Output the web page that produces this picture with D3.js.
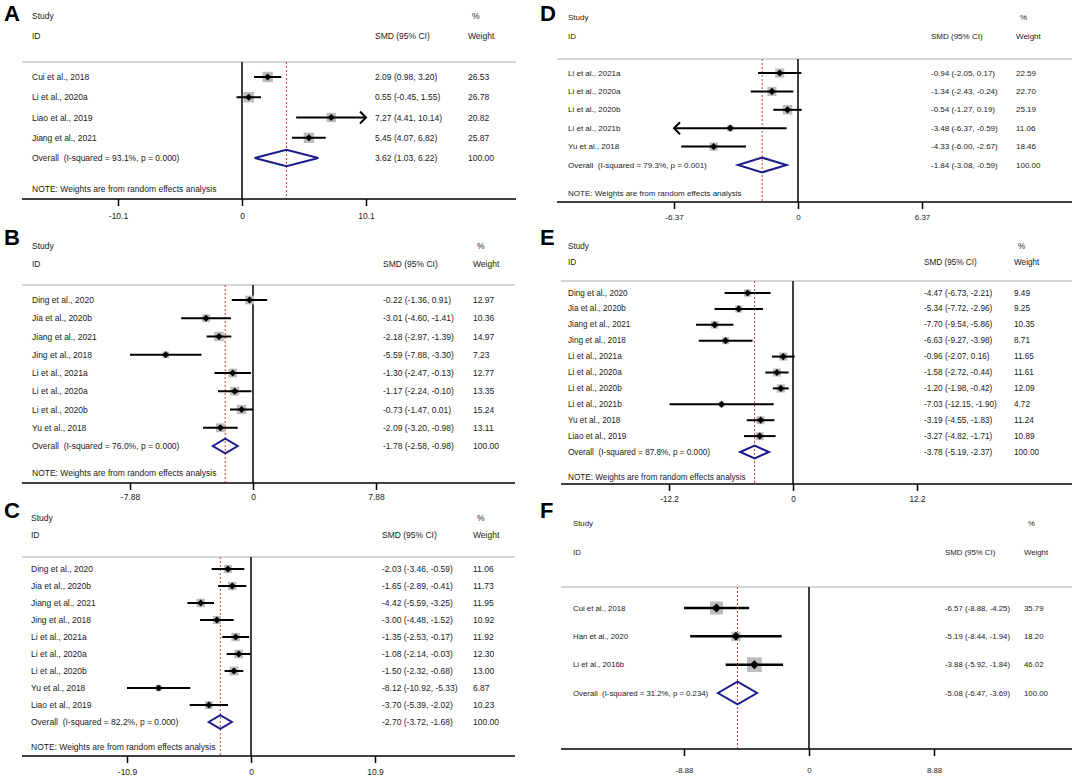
<!DOCTYPE html>
<html>
<head>
<meta charset="utf-8">
<script src="https://cdn.jsdelivr.net/npm/d3@7"></script>
<style>
  html, body { margin: 0; padding: 0; background: #fff; }
  svg { display: block; font-family: "Liberation Sans", Arial, sans-serif; }
</style>
</head>
<body>
<svg id="chart" width="1072" height="784"></svg>
<script>
// ---- data ----
const studiesA = ['Cui et al., 2018', 'Li et al., 2020a', 'Liao et al., 2019', 'Jiang et al., 2021'];
const smdA = [2.09, 0.55, 7.27, 5.45];
const loA = [0.98, -0.45, 4.41, 4.07];
const hiA = [3.20, 1.55, 10.14, 6.82];
const weightA = [26.53, 26.78, 20.82, 25.87];
const overallA = [3.62, 1.03, 6.22];
const hetA = ['93.1%', '0.000'];
const ticksA = [-10.1, 0, 10.1];
const arrowsA = [0, 0, 1, 0];

const studiesB = ['Ding et al., 2020', 'Jia et al., 2020b', 'Jiang et al., 2021', 'Jing et al., 2018',
    'Li et al., 2021a', 'Li et al., 2020a', 'Li et al., 2020b', 'Yu et al., 2018'];
const smdB = [-0.22, -3.01, -2.18, -5.59, -1.30, -1.17, -0.73, -2.09];
const loB = [-1.36, -4.60, -2.97, -7.88, -2.47, -2.24, -1.47, -3.20];
const hiB = [0.91, -1.41, -1.39, -3.30, -0.13, -0.10, 0.01, -0.98];
const weightB = [12.97, 10.36, 14.97, 7.23, 12.77, 13.35, 15.24, 13.11];
const overallB = [-1.78, -2.58, -0.98];
const hetB = ['76.0%', '0.000'];
const ticksB = [-7.88, 0, 7.88];
const arrowsB = [0, 0, 0, 0, 0, 0, 0, 0];

const studiesC = ['Ding et al., 2020', 'Jia et al., 2020b', 'Jiang et al., 2021', 'Jing et al., 2018',
    'Li et al., 2021a', 'Li et al., 2020a', 'Li et al., 2020b', 'Yu et al., 2018', 'Liao et al., 2019'];
const smdC = [-2.03, -1.65, -4.42, -3.00, -1.35, -1.08, -1.50, -8.12, -3.70];
const loC = [-3.46, -2.89, -5.59, -4.48, -2.53, -2.14, -2.32, -10.92, -5.39];
const hiC = [-0.59, -0.41, -3.25, -1.52, -0.17, -0.03, -0.68, -5.33, -2.02];
const weightC = [11.06, 11.73, 11.95, 10.92, 11.92, 12.30, 13.00, 6.87, 10.23];
const overallC = [-2.70, -3.72, -1.68];
const hetC = ['82.2%', '0.000'];
const ticksC = [-10.9, 0, 10.9];
const arrowsC = [0, 0, 0, 0, 0, 0, 0, 0, 0];

const studiesD = ['Li et al., 2021a', 'Li et al., 2020a', 'Li et al., 2020b', 'Li et al., 2021b', 'Yu et al., 2018'];
const smdD = [-0.94, -1.34, -0.54, -3.48, -4.33];
const loD = [-2.05, -2.43, -1.27, -6.37, -6.00];
const hiD = [0.17, -0.24, 0.19, -0.59, -2.67];
const weightD = [22.59, 22.70, 25.19, 11.06, 18.46];
const overallD = [-1.84, -3.08, -0.59];
const hetD = ['79.3%', '0.001'];
const ticksD = [-6.37, 0, 6.37];
const arrowsD = [0, 0, 0, -1, 0];

const studiesE = ['Ding et al., 2020', 'Jia et al., 2020b', 'Jiang et al., 2021', 'Jing et al., 2018',
    'Li et al., 2021a', 'Li et al., 2020a', 'Li et al., 2020b', 'Li et al., 2021b', 'Yu et al., 2018', 'Liao et al., 2019'];
const smdE = [-4.47, -5.34, -7.70, -6.63, -0.96, -1.58, -1.20, -7.03, -3.19, -3.27];
const loE = [-6.73, -7.72, -9.54, -9.27, -2.07, -2.72, -1.98, -12.15, -4.55, -4.82];
const hiE = [-2.21, -2.96, -5.86, -3.98, 0.16, -0.44, -0.42, -1.90, -1.83, -1.71];
const weightE = [9.49, 9.25, 10.35, 8.71, 11.65, 11.61, 12.09, 4.72, 11.24, 10.89];
const overallE = [-3.78, -5.19, -2.37];
const hetE = ['87.8%', '0.000'];
const ticksE = [-12.2, 0, 12.2];
const arrowsE = [0, 0, 0, 0, 0, 0, 0, 0, 0, 0];

const studiesF = ['Cui et al., 2018', 'Han et al., 2020', 'Li et al., 2016b'];
const smdF = [-6.57, -5.19, -3.88];
const loF = [-8.88, -8.44, -5.92];
const hiF = [-4.25, -1.94, -1.84];
const weightF = [35.79, 18.20, 46.02];
const overallF = [-5.08, -6.47, -3.69];
const hetF = ['31.2%', '0.234'];
const ticksF = [-8.88, 0, 8.88];
const arrowsF = [0, 0, 0];

// ---- layout of each panel (pixels) ----
const panels = [
    { letter: 'A', studies: studiesA, smd: smdA, lo: loA, hi: hiA, weight: weightA, overall: overallA, het: hetA, ticks: ticksA, arrows: arrowsA,
      lay: { letterX: 4, letterY: 21, left: 22, right: 516, zero: 242, tickPx: 124, labelX: 32, smdX: 375, wX: 468,
             studyY: 16, idY: 36, topY: 62, rowTop: 77, rowBot: 158, noteY: 189, axisY: 199, tickLabelY: 217, font: 8.5 } },
    { letter: 'B', studies: studiesB, smd: smdB, lo: loB, hi: hiB, weight: weightB, overall: overallB, het: hetB, ticks: ticksB, arrows: arrowsB,
      lay: { letterX: 4, letterY: 245, left: 22, right: 515, zero: 253, tickPx: 123, labelX: 32, smdX: 383, wX: 473,
             studyY: 246, idY: 264, topY: 285, rowTop: 300, rowBot: 446, noteY: 473, axisY: 483, tickLabelY: 498, font: 8.5 } },
    { letter: 'C', studies: studiesC, smd: smdC, lo: loC, hi: hiC, weight: weightC, overall: overallC, het: hetC, ticks: ticksC, arrows: arrowsC,
      lay: { letterX: 4, letterY: 518, left: 22, right: 515, zero: 251, tickPx: 124, labelX: 31, smdX: 382, wX: 473,
             studyY: 518, idY: 535, topY: 557, rowTop: 569, rowBot: 722, noteY: 747, axisY: 756, tickLabelY: 773, font: 8.5 } },
    { letter: 'D', studies: studiesD, smd: smdD, lo: loD, hi: hiD, weight: weightD, overall: overallD, het: hetD, ticks: ticksD, arrows: arrowsD,
      lay: { letterX: 540, letterY: 21, left: 557, right: 1072, zero: 798, tickPx: 124, labelX: 568, smdX: 931, wX: 1016,
             studyY: 17, idY: 36, topY: 59, rowTop: 73, rowBot: 165, noteY: 193, axisY: 202, tickLabelY: 218, font: 8 } },
    { letter: 'E', studies: studiesE, smd: smdE, lo: loE, hi: hiE, weight: weightE, overall: overallE, het: hetE, ticks: ticksE, arrows: arrowsE,
      lay: { letterX: 540, letterY: 245, left: 561, right: 1072, zero: 793, tickPx: 124, labelX: 568, smdX: 924, wX: 1014,
             studyY: 246, idY: 262, topY: 281, rowTop: 293, rowBot: 452, noteY: 477, axisY: 484, tickLabelY: 500, font: 8.2 } },
    { letter: 'F', studies: studiesF, smd: smdF, lo: loF, hi: hiF, weight: weightF, overall: overallF, het: hetF, ticks: ticksF, arrows: arrowsF,
      lay: { letterX: 540, letterY: 518, left: 561, right: 1072, zero: 809, tickPx: 125, labelX: 573, smdX: 945, wX: 1024,
             studyY: 523, idY: 552, topY: 587, rowTop: 608, rowBot: 693, noteY: null, axisY: 749, tickLabelY: 771, font: 7.8 } }
];

const textColor = '#1a1a1a';
const fmt = v => v.toFixed(2);   // keeps the plain hyphen minus

const svg = d3.select('#chart');
svg.append('rect').attr('width', 1072).attr('height', 784).attr('fill', '#fff');

panels.forEach(p => {
    const L = p.lay;
    const g = svg.append('g').attr('class', 'panel-' + p.letter);
    const n = p.studies.length;
    const tmax = d3.max(p.ticks);

    const x = d3.scaleLinear()
        .domain([-tmax, tmax])
        .range([L.zero - L.tickPx, L.zero + L.tickPx]);
    const y = d3.scalePoint()
        .domain(d3.range(n + 1))
        .range([L.rowTop, L.rowBot]);
    const step = y.step();
    const maxW = d3.max(p.weight);
    const clip = v => Math.max(-tmax, Math.min(tmax, v));

    const txt = (sel) => sel.attr('fill', textColor)
        .attr('font-size', L.font)
        .attr('dominant-baseline', 'central');

    // panel letter
    g.append('text')
        .attr('x', L.letterX).attr('y', L.letterY)
        .attr('font-size', 22).attr('font-weight', 'bold')
        .attr('fill', '#000')
        .text(p.letter);

    // headers
    g.append('text').attr('x', L.labelX).attr('y', L.studyY).call(txt).text('Study');
    g.append('text').attr('x', L.labelX).attr('y', L.idY).call(txt).text('ID');
    g.append('text').attr('x', L.smdX).attr('y', L.idY).call(txt).text('SMD (95% CI)');
    g.append('text').attr('x', L.wX + 4).attr('y', L.studyY).call(txt).text('%');
    g.append('text').attr('x', L.wX).attr('y', L.idY).call(txt).text('Weight');

    // top separator
    g.append('line')
        .attr('x1', L.left).attr('x2', L.right)
        .attr('y1', L.topY).attr('y2', L.topY)
        .attr('stroke', '#c8c8c8').attr('stroke-width', 1.5);

    // zero line
    g.append('line')
        .attr('x1', x(0)).attr('x2', x(0))
        .attr('y1', L.topY).attr('y2', L.axisY)
        .attr('stroke', '#000').attr('stroke-width', 1.5);

    // overall effect, red dotted
    g.append('line')
        .attr('x1', x(p.overall[0])).attr('x2', x(p.overall[0]))
        .attr('y1', L.topY).attr('y2', L.axisY)
        .attr('stroke', '#d23c3c').attr('stroke-width', 1)
        .attr('stroke-dasharray', '2,2');

    const rows = d3.range(n);

    // weight squares
    g.selectAll('rect.wt').data(rows).join('rect')
        .attr('class', 'wt')
        .attr('fill', '#bcbcbc')
        .each(function (i) {
            const s = 0.52 * step * Math.sqrt(p.weight[i] / maxW);
            d3.select(this)
                .attr('x', x(p.smd[i]) - s / 2).attr('y', y(i) - s / 2)
                .attr('width', s).attr('height', s);
        });

    // confidence intervals
    const lw = step > 25 ? 2.5 : 2;
    g.selectAll('line.ci').data(rows).join('line')
        .attr('class', 'ci')
        .attr('x1', i => x(clip(p.lo[i]))).attr('x2', i => x(clip(p.hi[i])))
        .attr('y1', i => y(i)).attr('y2', i => y(i))
        .attr('stroke', '#000').attr('stroke-width', lw);

    // arrow heads where the interval runs off the scale
    const ah = step > 25 ? 7 : 6;
    g.selectAll('path.arrow').data(rows.filter(i => p.arrows[i] !== 0)).join('path')
        .attr('class', 'arrow')
        .attr('fill', 'none').attr('stroke', '#000').attr('stroke-width', lw)
        .attr('d', i => {
            const dir = p.arrows[i];
            const tip = dir > 0 ? x(clip(p.hi[i])) : x(clip(p.lo[i]));
            const yy = y(i);
            return `M${tip - dir * 6},${yy - ah}L${tip},${yy}L${tip - dir * 6},${yy + ah}`;
        });

    // point estimates
    const r = step > 25 ? 4.5 : 3.6;
    g.selectAll('path.pt').data(rows).join('path')
        .attr('class', 'pt')
        .attr('fill', '#000')
        .attr('d', i => {
            const cx = x(p.smd[i]), cy = y(i);
            return `M${cx},${cy - r}L${cx + r},${cy}L${cx},${cy + r}L${cx - r},${cy}Z`;
        });

    // overall diamond
    const hh = 0.4 * step;
    const oy = y(n);
    g.append('path')
        .attr('fill', 'none').attr('stroke', '#1c1c8c').attr('stroke-width', 2)
        .attr('stroke-linejoin', 'miter')
        .attr('d', `M${x(p.overall[1])},${oy}L${x(p.overall[0])},${oy - hh}L${x(p.overall[2])},${oy}L${x(p.overall[0])},${oy + hh}Z`);

    // row texts
    g.selectAll('text.lab').data(rows).join('text')
        .attr('class', 'lab').call(txt)
        .attr('x', L.labelX).attr('y', i => y(i))
        .text(i => p.studies[i]);
    g.selectAll('text.est').data(rows).join('text')
        .attr('class', 'est').call(txt)
        .attr('x', L.smdX).attr('y', i => y(i))
        .text(i => `${fmt(p.smd[i])} (${fmt(p.lo[i])}, ${fmt(p.hi[i])})`);
    g.selectAll('text.w').data(rows).join('text')
        .attr('class', 'w').call(txt)
        .attr('x', L.wX).attr('y', i => y(i))
        .text(i => fmt(p.weight[i]));

    g.append('text').call(txt)
        .attr('x', L.labelX).attr('y', oy)
        .style('white-space', 'pre')
        .text(`Overall  (I-squared = ${p.het[0]}, p = ${p.het[1]})`);
    g.append('text').call(txt)
        .attr('x', L.smdX).attr('y', oy)
        .text(`${fmt(p.overall[0])} (${fmt(p.overall[1])}, ${fmt(p.overall[2])})`);
    g.append('text').call(txt)
        .attr('x', L.wX).attr('y', oy)
        .text('100.00');

    if (L.noteY !== null) {
        g.append('text').call(txt)
            .attr('x', L.labelX).attr('y', L.noteY)
            .text('NOTE: Weights are from random effects analysis');
    }

    // bottom axis
    g.append('line')
        .attr('x1', L.left).attr('x2', L.right)
        .attr('y1', L.axisY).attr('y2', L.axisY)
        .attr('stroke', '#000').attr('stroke-width', 1.5);

    const axis = d3.axisBottom(x)
        .tickValues(p.ticks)
        .tickFormat(v => String(v))
        .tickSize(7)
        .tickSizeOuter(0)
        .tickPadding(L.tickLabelY - L.axisY - 7 - L.font / 2);

    g.append('g')
        .attr('transform', `translate(0,${L.axisY})`)
        .call(axis)
        .call(a => a.select('.domain').remove())
        .call(a => a.selectAll('.tick line').attr('stroke', '#000').attr('stroke-width', 1.5))
        .call(a => a.selectAll('.tick text')
            .attr('fill', textColor)
            .attr('font-size', L.font)
            .attr('font-family', '"Liberation Sans", Arial, sans-serif'));
});
</script>
</body>
</html>
